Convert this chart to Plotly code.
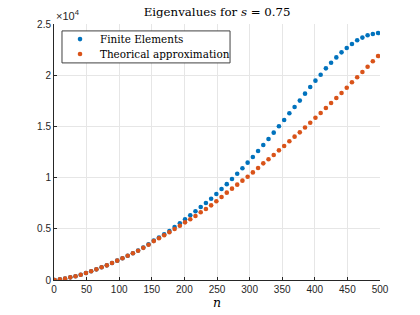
import plotly.graph_objects as go

n_values = list(range(1, 498, 8))

finite_elements = [
    0, 65, 130, 260, 360, 520, 680, 850, 1040, 1240, 1430, 1660, 1890, 2120, 2370, 2610,
    2870, 3170, 3480, 3850, 4150, 4460, 4790, 5180, 5530, 5930, 6320, 6710, 7130, 7520,
    7940, 8400, 8890, 9360, 9860, 10380, 10910, 11460, 12010, 12600, 13180, 13770, 14390,
    15010, 15630, 16280, 16900, 17520, 18200, 18850, 19470, 20050, 20670, 21220, 21740,
    22230, 22660, 23050, 23410, 23670, 23900, 24020, 24120,
]

theoretical = [
    0, 65, 130, 260, 360, 520, 680, 850, 1040, 1240, 1430, 1660, 1890, 2120, 2370, 2610,
    2860, 3140, 3440, 3800, 4070, 4370, 4660, 4980, 5300, 5630, 5930, 6250, 6610, 6930,
    7290, 7690, 8100, 8530, 8920, 9310, 9700, 10090, 10510, 10940, 11390, 11790, 12210,
    12660, 13090, 13550, 14000, 14420, 14890, 15360, 15850, 16310, 16800, 17290, 17770,
    18260, 18780, 19310, 19800, 20310, 20830, 21360, 21880,
]

series_names = ["Finite Elements", "Theorical approximation"]
series_colors = ["#0072BD", "#D95319"]

x_ticks = [0, 50, 100, 150, 200, 250, 300, 350, 400, 450, 500]
y_ticks = [0, 5000, 10000, 15000, 20000, 25000]
y_tick_labels = ["0", "0.5", "1", "1.5", "2", "2.5"]

serif = "DejaVu Serif, Liberation Serif, serif"
sans = "Liberation Sans, Arial, sans-serif"
axis_color = "#262626"
grid_color = "#e6e6e6"

fig = go.Figure()
for name, vals, col in zip(series_names, [finite_elements, theoretical], series_colors):
    fig.add_trace(go.Scatter(
        x=n_values, y=vals, mode="markers", name=name,
        marker=dict(color=col, size=4.6), showlegend=False, hoverinfo="skip",
    ))

fig.update_layout(
    width=420, height=315,
    margin=dict(l=54, r=40, t=24, b=35),
    paper_bgcolor="white", plot_bgcolor="white",
    hovermode=False,
    title=dict(text="Eigenvalues for <i>s</i> = 0.75", x=0.517, xanchor="center",
               y=0.962, yanchor="middle",
               font=dict(family=serif, size=11.8, color="black")),
)

fig.update_xaxes(
    range=[0, 500], tickvals=x_ticks, showgrid=True, gridcolor=grid_color, gridwidth=1,
    showline=True, linecolor=axis_color, linewidth=1, mirror=False, automargin=False,
    ticks="inside", ticklen=3, tickcolor=axis_color, zeroline=False,
    tickfont=dict(family=sans, size=10, color=axis_color),
    title=dict(text="<i>n</i>", font=dict(family=serif, size=12.5, color="black"), standoff=4),
)
fig.update_yaxes(
    range=[0, 25000], tickvals=y_ticks, ticktext=y_tick_labels,
    showgrid=True, gridcolor=grid_color, gridwidth=1,
    showline=True, linecolor=axis_color, linewidth=1, mirror=False, automargin=False,
    ticks="inside", ticklen=3, tickcolor=axis_color, zeroline=False,
    tickfont=dict(family=sans, size=10, color=axis_color),
)

fig.add_annotation(
    text="×10<sup>4</sup>", xref="paper", yref="paper", x=0.0, y=1.0,
    xanchor="left", yanchor="bottom", showarrow=False,
    font=dict(family=sans, size=11, color=axis_color),
)

# custom legend (compact, MATLAB-like)
fig.add_shape(type="rect", xref="paper", yref="paper", x0=0.0245, x1=0.54, y0=0.848, y1=0.973,
              line=dict(color="#404040", width=1), fillcolor="white", layer="above")
legend_y = [0.941, 0.883]
for name, col, ly in zip(series_names, series_colors, legend_y):
    fig.add_shape(type="circle", xref="paper", yref="paper", xsizemode="pixel", ysizemode="pixel",
                  xanchor=0.0798, yanchor=ly, x0=-2.3, x1=2.3, y0=-2.3, y1=2.3,
                  fillcolor=col, line=dict(color=col, width=0), layer="above")
    fig.add_annotation(text=name, xref="paper", yref="paper", x=0.135, y=ly,
                       xanchor="left", yanchor="middle", showarrow=False,
                       font=dict(family=serif, size=10.4, color="black"))

fig.write_html("out.html", config={"displayModeBar": False},
               post_script="document.body.style.margin='0';")
